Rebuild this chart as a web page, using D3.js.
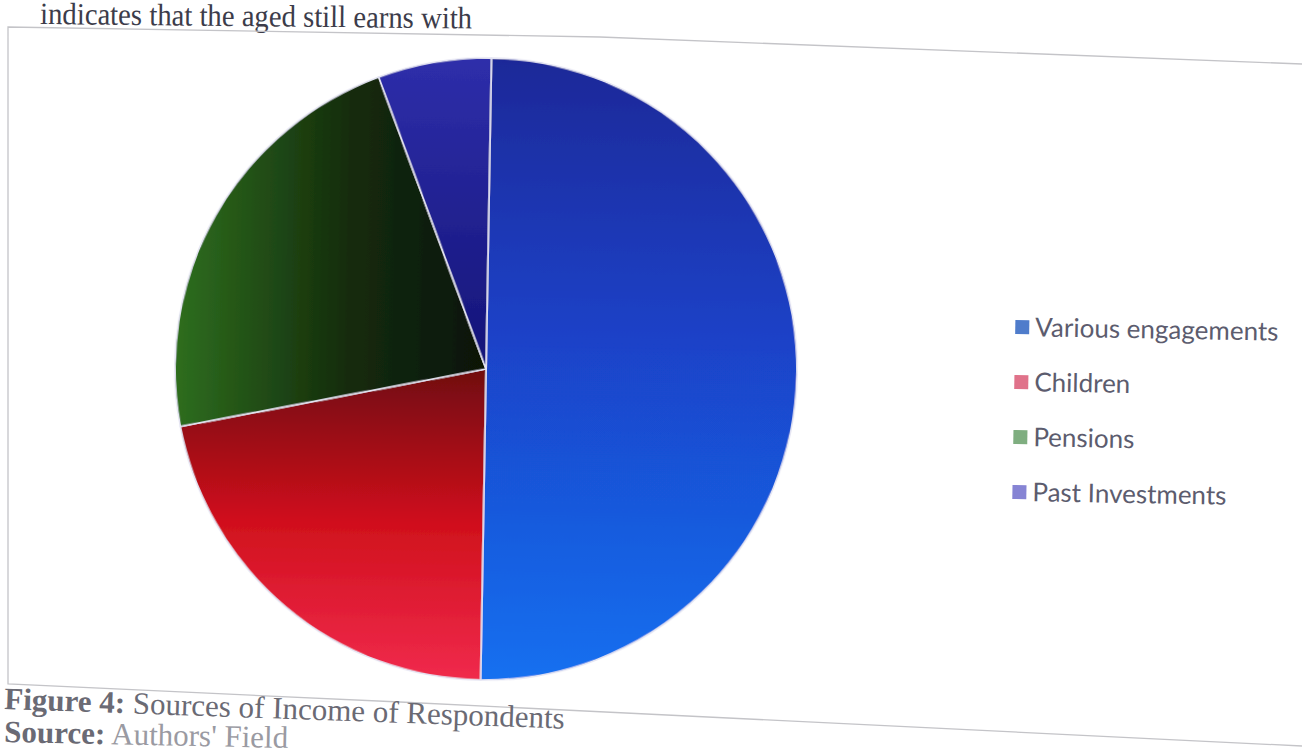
<!DOCTYPE html>
<html>
<head>
<meta charset="utf-8">
<script src="https://cdn.jsdelivr.net/npm/d3@7"></script>
<style>
  body { margin: 0; background: #fff; }
  svg { display: block; }
</style>
</head>
<body>
<div id="chart"></div>
<script>
const WIDTH = 1302, HEIGHT = 751;

// data
const categories = ["Various engagements", "Children", "Pensions", "Past Investments"];
const values = [85, 37, 38, 10];
const topLine = "indicates that the aged still earns with";
const captionBold = "Figure 4:";
const captionText = " Sources of Income of Respondents";
const sourceBold = "Source:";
const sourceText = " Authors' Field";

// styles
const legendColors = ["#4f7ccb", "#e0728a", "#7fae80", "#8684d4"];
const sliceStops = [
  [["0", "#1c2898"], ["0.45", "#1a42c8"], ["1", "#1870f0"]],
  [["0", "#700a10"], ["0.5", "#d0101c"], ["1", "#f02a4c"]],
  [["0", "#2e6e1e"], ["0.55", "#142c0c"], ["1", "#0a1406"]],
  [["0", "#2e2eaa"], ["1", "#141478"]]
];
const gradDirs = [
  {x1: 0, y1: -311, x2: 0, y2: 311},
  {x1: 0, y1: 0, x2: 0, y2: 311},
  {x1: -311, y1: 0, x2: 0, y2: 0},
  {x1: 0, y1: -311, x2: 0, y2: 0}
];

let svg = d3.select("#chart")
  .append("svg")
  .attr("width", WIDTH)
  .attr("height", HEIGHT);

let defs = svg.append("defs");

defs.append("filter")
  .attr("id", "soft")
  .append("feGaussianBlur")
  .attr("stdDeviation", 0.7);

sliceStops.forEach(function(stops, i) {
  let g = defs.append("linearGradient")
    .attr("id", "grad" + i)
    .attr("gradientUnits", "userSpaceOnUse")
    .attr("x1", gradDirs[i].x1).attr("y1", gradDirs[i].y1)
    .attr("x2", gradDirs[i].x2).attr("y2", gradDirs[i].y2);
  stops.forEach(function(s) {
    g.append("stop").attr("offset", s[0]).attr("stop-color", s[1]);
  });
});

// text above the chart frame
svg.append("text")
  .attr("x", 40)
  .attr("y", 24)
  .attr("textLength", 432)
  .attr("lengthAdjust", "spacingAndGlyphs")
  .attr("transform", "rotate(0.6, 40, 24)")
  .style("font-family", "'Liberation Serif', 'Times New Roman', serif")
  .style("font-size", "31px")
  .style("fill", "#3c3c4a")
  .text(topLine);

// chart frame
svg.append("path")
  .attr("d", "M1302,64 L600,37 L8,27 L8,684 L400,702 L1302,746")
  .attr("fill", "none")
  .attr("stroke", "#c4c4c8")
  .attr("stroke-width", 1.3);

// pie
const radius = 311;
let pieG = svg.append("g")
  .attr("transform", "translate(486,369) rotate(1)")
  .attr("filter", "url(#soft)");

let pie = d3.pie().sort(null).value(function(d) { return d; });
let arc = d3.arc().innerRadius(0).outerRadius(radius);

pieG.selectAll("path")
  .data(pie(values))
  .enter()
  .append("path")
  .attr("d", arc)
  .attr("fill", function(d, i) { return "url(#grad" + i + ")"; })
  .attr("stroke", "#e4e4f2")
  .attr("stroke-width", 1.6);

// legend
let legend = svg.append("g")
  .attr("transform", "rotate(1, 1014, 400)");

let rows = legend.selectAll("g")
  .data(categories)
  .enter()
  .append("g")
  .attr("transform", function(d, i) { return `translate(1014,${327 + i * 55})`; });

rows.append("rect")
  .attr("x", 0)
  .attr("y", -7)
  .attr("width", 14)
  .attr("height", 14)
  .attr("fill", function(d, i) { return legendColors[i]; });

rows.append("text")
  .attr("x", 20)
  .attr("y", 9)
  .style("font-family", "Lato, 'Open Sans', sans-serif")
  .style("font-size", "26px")
  .style("fill", "#5c5c6e")
  .text(function(d) { return d; });

// caption
let cap = svg.append("g")
  .style("font-family", "'Liberation Serif', 'Times New Roman', serif")
  .style("font-size", "31px")
  .style("fill", "#6a6a74");

let c1 = cap.append("text")
  .attr("x", 4).attr("y", 709)
  .attr("transform", "rotate(2, 4, 709)");
c1.append("tspan").style("font-weight", "bold").text(captionBold);
c1.append("tspan").text(captionText);

let c2 = cap.append("text")
  .attr("x", 4).attr("y", 742)
  .attr("transform", "rotate(1.2, 4, 742)");
c2.append("tspan").style("font-weight", "bold").text(sourceBold);
c2.append("tspan").style("fill", "#9a9aa2").text(sourceText);
</script>
</body>
</html>
